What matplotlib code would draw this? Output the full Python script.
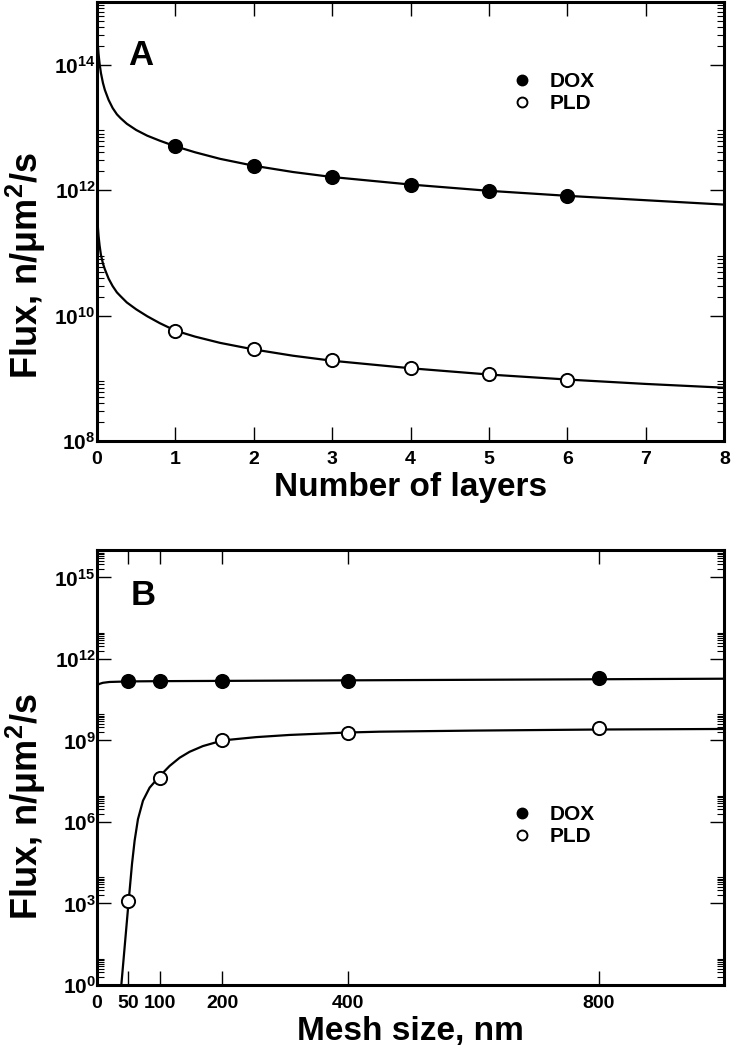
import numpy as np
import matplotlib
matplotlib.use("Agg")
import matplotlib.pyplot as plt
from matplotlib.ticker import FixedLocator, FuncFormatter

plt.rcParams['font.family'] = ['Liberation Sans', 'DejaVu Sans']
plt.rcParams['font.weight'] = 'bold'
plt.rcParams['axes.labelweight'] = 'bold'
plt.rcParams['mathtext.fontset'] = 'custom'
plt.rcParams['mathtext.rm'] = 'Liberation Sans:bold'
plt.rcParams['mathtext.it'] = 'Liberation Sans:bold'
plt.rcParams['mathtext.bf'] = 'Liberation Sans:bold'
plt.rcParams['mathtext.default'] = 'rm'

# ---- panel A: flux vs number of layers ----
layers = [1, 2, 3, 4, 5, 6]
dox_layers = [5.0e12, 2.45e12, 1.62e12, 1.23e12, 9.8e11, 8.1e11]
pld_layers = [5.75e9, 2.9e9, 1.95e9, 1.45e9, 1.17e9, 9.5e8]

# fitted curves (x, log10 of flux)
fit_x_layers = [0.005, 0.012, 0.02, 0.033, 0.05, 0.076, 0.1, 0.148, 0.2, 0.254, 0.3,
                0.38, 0.5, 0.64, 0.8, 1.0, 1.25, 1.57, 2.0, 2.5, 3.0, 3.5, 4.0, 5.0,
                6.0, 7.0, 8.0]
fit_dox_layers_log = [14.5, 14.3, 14.17, 14.02, 13.87, 13.71, 13.6, 13.44, 13.31, 13.21,
                      13.15, 13.06, 12.96, 12.87, 12.79, 12.70, 12.605, 12.50, 12.39,
                      12.29, 12.21, 12.15, 12.09, 11.99, 11.91, 11.84, 11.77]
fit_pld_layers_log = [11.62, 11.40, 11.27, 11.12, 10.97, 10.83, 10.74, 10.59, 10.47,
                      10.37, 10.31, 10.21, 10.10, 9.99, 9.88, 9.76, 9.665, 9.565, 9.46,
                      9.36, 9.28, 9.22, 9.16, 9.06, 8.98, 8.91, 8.85]

# ---- panel B: flux vs mesh size ----
mesh = [50, 100, 200, 400, 800]
dox_mesh = [1.48e11, 1.48e11, 1.51e11, 1.58e11, 1.9e11]
pld_mesh = [1.26e3, 4.2e7, 1.0e9, 1.8e9, 2.75e9]

fit_x_dox_mesh = [0, 4, 9.5, 20, 50, 100, 200, 400, 800, 1000]
fit_dox_mesh_log = [11.03, 11.08, 11.12, 11.15, 11.17, 11.18, 11.19, 11.21, 11.25, 11.27]
fit_x_pld_mesh = [37.2, 38.8, 44.1, 50.5, 55.8, 60.0, 65.3, 73.3, 83.9, 99.8, 115.8,
                  131.7, 147.6, 168.8, 200.6, 253.8, 306.8, 400, 450, 600, 800, 1000]
fit_pld_mesh_log = [-0.31, 0.0, 1.4, 3.09, 4.45, 5.31, 6.1, 6.78, 7.26, 7.68, 8.06,
                    8.36, 8.58, 8.79, 9.0, 9.12, 9.2, 9.29, 9.32, 9.36, 9.4, 9.42]


def log_minor(majors):
    return [k * 10.0 ** m for m in majors for k in range(2, 10)]


def style_axes(ax, y_majors):
    for s in ax.spines.values():
        s.set_linewidth(2.2)
    ax.set_yscale('log')
    ax.yaxis.set_major_locator(FixedLocator([10.0 ** m for m in y_majors]))
    ax.yaxis.set_minor_locator(FixedLocator(log_minor(y_majors)))
    ax.yaxis.set_major_formatter(FuncFormatter(lambda v, p: r'$10^{%d}$' % round(np.log10(v))))
    ax.tick_params(which='both', direction='in', top=True, right=True)
    ax.tick_params(which='major', length=10, width=1.0)
    ax.tick_params(which='minor', length=5, width=0.8)
    ax.tick_params(axis='x', labelsize=14, pad=7)
    ax.tick_params(axis='y', labelsize=15, pad=1)


def add_legend(ax, y_top):
    ax.legend(loc='upper left', bbox_to_anchor=(0.665, y_top), frameon=False, fontsize=15,
              markerscale=0.75, handlelength=0.8, handletextpad=0.9, labelspacing=0.15,
              borderpad=0, borderaxespad=0)


fig = plt.figure(figsize=(7.32, 10.5), dpi=100)

# panel A
ax1 = fig.add_axes([0.1325, 0.58, 0.857, 0.418])
ax1.plot(fit_x_layers, 10 ** np.array(fit_dox_layers_log), color='black', lw=1.6)
ax1.plot(fit_x_layers, 10 ** np.array(fit_pld_layers_log), color='black', lw=1.6)
ax1.plot(layers, dox_layers, 'o', ms=9.5, mfc='black', mec='black', mew=1.4, label='DOX')
ax1.plot(layers, pld_layers, 'o', ms=9.5, mfc='white', mec='black', mew=1.4, label='PLD')
style_axes(ax1, [8, 10, 12, 14])
ax1.set_xlim(0, 8)
ax1.set_ylim(1e8, 1e15)
ax1.set_xticks(range(0, 9))
ax1.set_xlabel('Number of layers', fontsize=24, labelpad=3)
ax1.set_ylabel('Flux, n/\u03bcm$^2$/s', fontsize=26)
ax1.yaxis.set_label_coords(-0.078, 0.40)
ax1.text(0.05, 0.857, 'A', transform=ax1.transAxes, fontsize=25, fontweight='bold')
add_legend(ax1, 0.84)

# panel B
ax2 = fig.add_axes([0.1325, 0.062, 0.857, 0.414])
ax2.plot(fit_x_dox_mesh, 10 ** np.array(fit_dox_mesh_log), color='black', lw=1.6)
ax2.plot(fit_x_pld_mesh, 10 ** np.array(fit_pld_mesh_log), color='black', lw=1.6)
ax2.plot(mesh, dox_mesh, 'o', ms=9.5, mfc='black', mec='black', mew=1.4, label='DOX')
ax2.plot(mesh, pld_mesh, 'o', ms=9.5, mfc='white', mec='black', mew=1.4, label='PLD')
style_axes(ax2, [0, 3, 6, 9, 12, 15])
ax2.set_xlim(0, 1000)
ax2.set_ylim(1e0, 1e16)
ax2.set_xticks([0, 50, 100, 200, 400, 800])
ax2.set_xlabel('Mesh size, nm', fontsize=24, labelpad=3)
ax2.set_ylabel('Flux, n/\u03bcm$^2$/s', fontsize=26)
ax2.yaxis.set_label_coords(-0.078, 0.41)
ax2.text(0.053, 0.874, 'B', transform=ax2.transAxes, fontsize=25, fontweight='bold')
add_legend(ax2, 0.414)

fig.savefig('out.png', dpi=100)
